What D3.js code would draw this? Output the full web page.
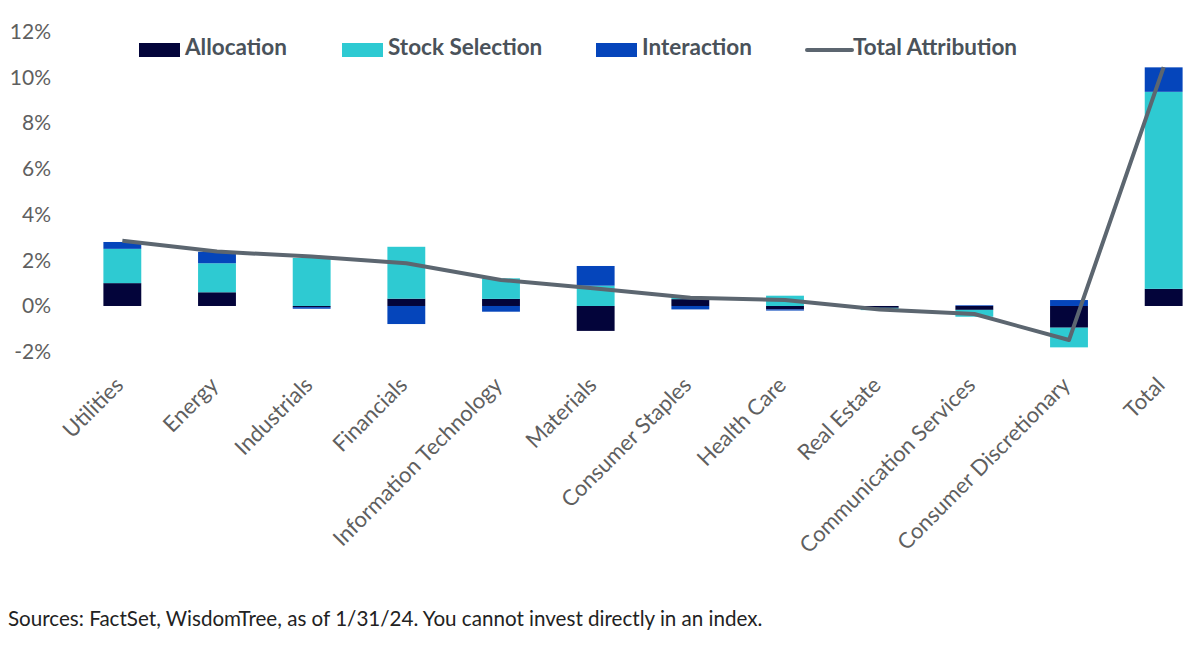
<!DOCTYPE html>
<html>
<head>
<meta charset="utf-8">
<script src="https://cdn.jsdelivr.net/npm/d3@7"></script>
<style>
  body { margin: 0; background: #fff; }
  svg { display: block; font-family: Lato, "Open Sans", sans-serif; }
</style>
</head>
<body>
<svg id="chart" width="1200" height="647"></svg>
<script>
// sector attribution, in percent
const categories = ['Utilities', 'Energy', 'Industrials', 'Financials', 'Information Technology',
  'Materials', 'Consumer Staples', 'Health Care', 'Real Estate', 'Communication Services',
  'Consumer Discretionary', 'Total'];

const allocation     = [1.0, 0.6, -0.05, 0.32, 0.31, -1.09, 0.3, -0.15, -0.08, -0.17, -0.95, 0.75];
const stockSelection = [1.5, 1.27, 2.1, 2.27, 0.9, 0.89, 0.08, 0.45, -0.1, -0.3, -0.86, 8.62];
const interaction    = [0.3, 0.5, -0.07, -0.79, -0.25, 0.86, -0.15, -0.05, 0, 0.03, 0.26, 1.07];
const totalAttribution = [2.85, 2.38, 2.16, 1.87, 1.14, 0.77, 0.36, 0.26, -0.15, -0.35, -1.49, 10.45];

const yTicks = [-2, 0, 2, 4, 6, 8, 10, 12];

const seriesNames = ['Allocation', 'Stock Selection', 'Interaction'];
const colors = { 'Allocation': '#03043a', 'Stock Selection': '#2ecad2', 'Interaction': '#0545bb' };
const lineColor = '#5c6670';

const svg = d3.select('#chart');

const rows = categories.map((c, i) => ({
  category: c,
  'Allocation': allocation[i],
  'Stock Selection': stockSelection[i],
  'Interaction': interaction[i]
}));

const x = d3.scaleBand()
  .domain(categories)
  .range([75, 1211])
  .paddingInner(0.6)
  .paddingOuter(0.3);

const y = d3.scaleLinear()
  .domain([-2, 12])
  .range([351.7, 31.7]);

const stacked = d3.stack()
  .keys(seriesNames)
  .offset(d3.stackOffsetDiverging)(rows);

// bars
svg.append('g')
  .selectAll('g')
  .data(stacked)
  .join('g')
  .attr('fill', d => colors[d.key])
  .selectAll('rect')
  .data(d => d)
  .join('rect')
  .attr('x', d => x(d.data.category))
  .attr('width', x.bandwidth())
  .attr('y', d => y(Math.max(d[0], d[1])))
  .attr('height', d => Math.abs(y(d[0]) - y(d[1])));

// total attribution line
const line = d3.line()
  .x((d, i) => x(categories[i]) + x.bandwidth() / 2)
  .y(d => y(d));

svg.append('path')
  .datum(totalAttribution)
  .attr('fill', 'none')
  .attr('stroke', lineColor)
  .attr('stroke-width', 4)
  .attr('stroke-linejoin', 'round')
  .attr('d', line);

// y axis
const yAxis = svg.append('g')
  .attr('transform', 'translate(51,0)')
  .call(d3.axisLeft(y).tickValues(yTicks).tickSize(0).tickPadding(0).tickFormat(d => d + '%'));
yAxis.select('.domain').remove();
yAxis.selectAll('text')
  .attr('fill', '#5f5f5f')
  .style('font-size', '21px')
  .style('font-family', 'Lato, sans-serif');

// x axis labels
const xAxis = svg.append('g')
  .attr('transform', 'translate(0,381)')
  .call(d3.axisBottom(x).tickSize(0).tickPadding(0));
xAxis.select('.domain').remove();
xAxis.selectAll('text')
  .attr('fill', '#5f5f5f')
  .style('font-size', '22px')
  .style('font-family', 'Lato, sans-serif')
  .attr('text-anchor', 'end')
  .attr('dy', '0.35em')
  .attr('transform', 'translate(-3,0) rotate(-45)');

// legend
const legendItems = [
  { name: 'Allocation', x: 139, type: 'rect' },
  { name: 'Stock Selection', x: 342, type: 'rect' },
  { name: 'Interaction', x: 596, type: 'rect' },
  { name: 'Total Attribution', x: 807, type: 'line' }
];

const legend = svg.append('g');
legendItems.forEach(item => {
  if (item.type === 'rect') {
    legend.append('rect')
      .attr('x', item.x).attr('y', 43)
      .attr('width', 41).attr('height', 14)
      .attr('fill', colors[item.name]);
  } else {
    legend.append('line')
      .attr('x1', item.x).attr('x2', item.x + 45)
      .attr('y1', 50).attr('y2', 50)
      .attr('stroke', lineColor).attr('stroke-width', 4)
      .attr('stroke-linecap', 'round');
  }
  legend.append('text')
    .attr('x', item.x + 46)
    .attr('y', 55)
    .attr('fill', '#4a525a')
    .style('font-size', '22.5px')
    .style('font-weight', 'bold')
    .text(item.name);
});

// source note
svg.append('text')
  .attr('x', 8)
  .attr('y', 626)
  .attr('fill', '#222')
  .style('font-size', '20.6px')
  .text('Sources: FactSet, WisdomTree, as of 1/31/24. You cannot invest directly in an index.');
</script>
</body>
</html>
